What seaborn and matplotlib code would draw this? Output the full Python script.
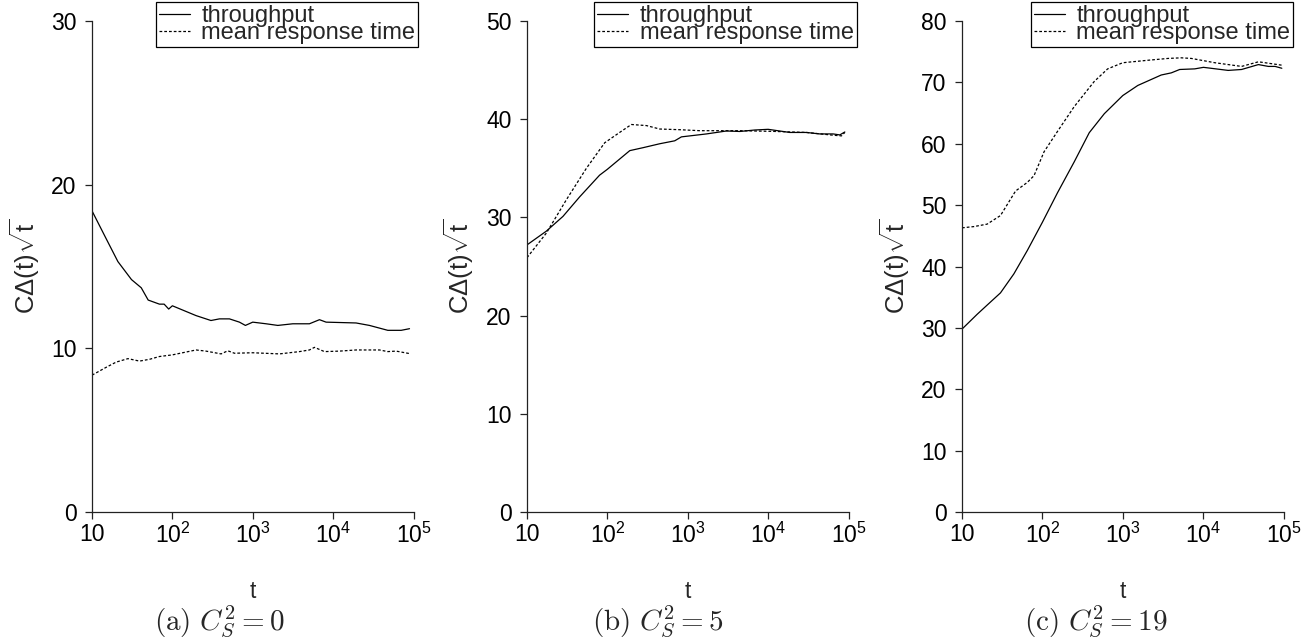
import numpy as np
import pandas as pd
import matplotlib
matplotlib.use("Agg")
import matplotlib.pyplot as plt
import seaborn as sns

# ---------------- data ----------------
# Panel (a) C_S^2 = 0
a_tp_t = [10, 15, 21, 31, 41, 50, 69, 79, 90, 100, 197, 302, 385, 513, 683, 810,
          1000, 1466, 2050, 3150, 5070, 6760, 8180, 19300, 28300, 47900, 70200, 89200]
a_tp_v = [18.4, 16.7, 15.3, 14.2, 13.7, 12.95, 12.7, 12.7, 12.4, 12.6, 12.0, 11.7, 11.8, 11.8,
          11.6, 11.4, 11.6, 11.5, 11.4, 11.5, 11.5, 11.75, 11.6, 11.55, 11.4, 11.1, 11.1, 11.2]
a_rt_t = [10, 15, 20, 28, 39, 52, 69, 100, 197, 262, 404, 489, 592, 1000, 2150, 3810,
          5070, 5860, 7800, 12000, 19300, 37800, 47900, 60800, 89200]
a_rt_v = [8.36, 8.84, 9.16, 9.37, 9.22, 9.33, 9.5, 9.6, 9.9, 9.83, 9.66, 9.85, 9.7, 9.73,
          9.66, 9.8, 9.9, 10.06, 9.8, 9.83, 9.9, 9.9, 9.8, 9.83, 9.68]

# Panel (b) C_S^2 = 5
b_tp_t = [10, 17.4, 28, 45.3, 80, 100, 190, 278, 448, 689, 834, 1710, 3030, 4440, 6820,
          10000, 18600, 30000, 44000, 64400, 78000, 90000]
b_tp_v = [27.2, 28.6, 30.1, 32.1, 34.3, 34.9, 36.8, 37.1, 37.5, 37.8, 38.2, 38.5, 38.8, 38.75,
          38.9, 38.97, 38.65, 38.65, 38.5, 38.5, 38.4, 38.7]
b_rt_t = [10, 17.4, 30.9, 54.8, 92.6, 142, 199, 306, 448, 795, 1410, 4440, 11500, 30000,
          64400, 81800, 90000]
b_rt_v = [25.9, 28.4, 31.8, 35.0, 37.6, 38.65, 39.46, 39.35, 39.0, 38.93, 38.83, 38.83, 38.76,
          38.65, 38.37, 38.3, 38.65]

# Panel (c) C_S^2 = 19
c_tp_t = [10, 15.4, 20.5, 30.1, 44.2, 64.9, 100, 154, 249, 383, 590, 1000, 1540, 3010, 4020,
          5110, 7870, 10100, 20500, 30100, 48700, 64900, 78700, 95300]
c_tp_v = [29.8, 32.2, 33.7, 35.7, 38.8, 42.6, 47.2, 52.0, 57.05, 61.8, 64.9, 67.85, 69.5, 71.2,
          71.55, 72.1, 72.2, 72.45, 71.95, 72.1, 72.9, 72.6, 72.6, 72.3]
c_rt_t = [10, 14, 20.5, 30.1, 46.4, 64.9, 78.7, 105, 154, 249, 442, 649, 1000, 2050, 3650,
          5360, 7150, 14000, 30100, 48700, 59000, 95300]
c_rt_v = [46.3, 46.5, 46.9, 48.3, 52.3, 53.7, 54.8, 58.7, 62.0, 66.05, 70.15, 72.2, 73.2, 73.6,
          73.9, 74.0, 73.9, 73.2, 72.6, 73.35, 73.2, 72.8]

series_labels = ["throughput", "mean response time"]
captions = [r"$\mathrm{(a)}\ C_S^2 = 0$", r"$\mathrm{(b)}\ C_S^2 = 5$", r"$\mathrm{(c)}\ C_S^2 = 19$"]
y_limits = [30, 50, 80]
x_ticks = [10, 100, 1000, 10000, 100000]
x_tick_labels = ["10", r"$10^2$", r"$10^3$", r"$10^4$", r"$10^5$"]
y_label = "C\u0394(t)" + r"$\sqrt{\mathrm{t}}$"

panels = [
    (a_tp_t, a_tp_v, a_rt_t, a_rt_v),
    (b_tp_t, b_tp_v, b_rt_t, b_rt_v),
    (c_tp_t, c_tp_v, c_rt_t, c_rt_v),
]

# ---------------- style ----------------
sns.set_theme(style="ticks")
plt.rcParams["font.family"] = ["Liberation Sans", "DejaVu Sans"]
plt.rcParams["mathtext.fontset"] = "custom"
plt.rcParams["mathtext.rm"] = "Liberation Sans"
plt.rcParams["mathtext.it"] = "Liberation Sans:italic"
plt.rcParams["mathtext.sf"] = "Liberation Sans"
plt.rcParams["mathtext.bf"] = "Liberation Sans:bold"

FS = 16.5
LEG_FS = 17
spine_color = "#222222"

fig = plt.figure(figsize=(13.15, 6.38), dpi=100)
W, H = 1315, 638
lefts = [92, 527, 962]
ax_w = 321.5
top_px, bot_px = 21, 512
legend_right = [1.015, 1.025, 1.03]

for i, (tp_t, tp_v, rt_t, rt_v) in enumerate(panels):
    ax = fig.add_axes([lefts[i] / W, 1 - bot_px / H, ax_w / W, (bot_px - top_px) / H])
    df_tp = pd.DataFrame({"t": tp_t, "v": tp_v})
    df_rt = pd.DataFrame({"t": rt_t, "v": rt_v})
    sns.lineplot(data=df_tp, x="t", y="v", ax=ax, color="black", linewidth=0.9,
                 label=series_labels[0])
    sns.lineplot(data=df_rt, x="t", y="v", ax=ax, color="black", linewidth=0.9,
                 linestyle=(0, (2.2, 1.6)), label=series_labels[1])
    ax.set_xscale("log")
    ax.set_xlim(10, 1e5)
    ax.set_ylim(0, y_limits[i])
    ax.set_yticks(np.arange(0, y_limits[i] + 1, 10))
    ax.set_xticks(x_ticks)
    ax.set_xticklabels(x_tick_labels)
    ax.xaxis.set_minor_locator(matplotlib.ticker.NullLocator())
    ax.tick_params(axis="both", labelsize=FS, length=5, width=0.9, color=spine_color,
                   labelcolor="black", direction="out")
    ax.tick_params(axis="y", pad=6)
    ax.tick_params(axis="x", pad=3)
    sns.despine(ax=ax)
    for s in ("left", "bottom"):
        ax.spines[s].set_color(spine_color)
        ax.spines[s].set_linewidth(0.9)
    ax.set_xlabel("t", fontsize=FS, labelpad=23)
    ax.set_ylabel(y_label, fontsize=18.5, labelpad=7)
    leg = ax.legend(loc="upper right", bbox_to_anchor=(legend_right[i], 1.038),
                    borderaxespad=0, frameon=True, fancybox=False, framealpha=1,
                    edgecolor="black", fontsize=LEG_FS, handlelength=1.3,
                    handletextpad=0.5, labelspacing=-0.2, borderpad=0.12)
    leg.get_frame().set_linewidth(0.9)
    fig.text((2 * i + 1) / 6, 1 - 630 / H, captions[i], ha="center", va="baseline",
             fontsize=21, math_fontfamily="cm")

fig.savefig("out.png", dpi=100)
